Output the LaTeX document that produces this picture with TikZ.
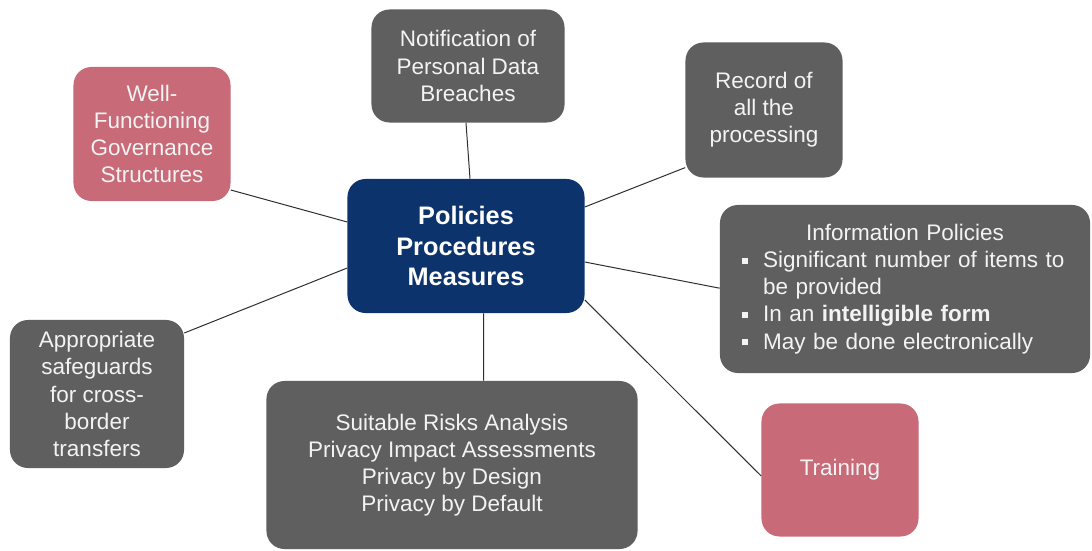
\documentclass[tikz,border=0pt]{standalone}
\usepackage{fontspec}
\setmainfont{Liberation Sans}

\definecolor{hubcolor}{RGB}{13, 51, 108}
\definecolor{greycolor}{RGB}{95, 95, 95}
\definecolor{pinkcolor}{RGB}{200, 106, 120}
\definecolor{edgecolor}{RGB}{45, 45, 45}
\definecolor{labelcolor}{RGB}{243, 243, 243}

\def\cornersize{0.45cm}
\newcommand{\sqbullet}{\raisebox{0.09cm}{\rule{0.15cm}{0.15cm}}}
% one line of a bulleted list, and the indented line that carries it on
\newcommand{\itemline}{\par\noindent\makebox[0.53cm][l]{\sqbullet}}
\newcommand{\moreline}{\par\noindent\hspace*{0.53cm}}

\begin{document}
\begin{tikzpicture}[x=0.025cm, y=-0.025cm,
    box/.style={rounded corners=\cornersize, inner sep=0pt, align=center,
        text=labelcolor, font=\fontsize{16}{19.3}\selectfont},
    greybox/.style={box, fill=greycolor},
    pinkbox/.style={box, fill=pinkcolor},
    hub/.style={box, fill=hubcolor, text=white, font=\fontsize{18}{22}\selectfont\bfseries},
    link/.style={draw, edgecolor, line width=0.7pt}
    ]

    \useasboundingbox[fill=white] (0,0) rectangle (1092,551);

    % Define boxes
    \node[hub, minimum width=5.925cm, minimum height=3.35cm] (pol) at (466,246)
        {Policies\\Procedures\\Measures};

    \node[greybox, minimum width=4.825cm, minimum height=2.825cm] (breach) at (468,66)
        {Notification of\\Personal Data\\Breaches};
    \node[greybox, minimum width=3.925cm, minimum height=3.375cm] (record) at (764,110)
        {Record of\\all the\\processing};
    \node[pinkbox, minimum width=3.925cm, minimum height=3.35cm] (gov) at (152,134)
        {Well-\\Functioning\\Governance\\Structures};
    \node[greybox, minimum width=4.35cm, minimum height=3.7cm] (transfer) at (97,394)
        {Appropriate\\safeguards\\for cross-\\border\\transfers};
    \node[greybox, minimum width=9.275cm, minimum height=4.2cm] (risk) at (452,465)
        {Suitable Risks Analysis\\Privacy Impact Assessments\\Privacy by Design\\Privacy by Default};
    \node[pinkbox, minimum width=3.925cm, minimum height=3.325cm] (train) at (840,470)
        {Training};
    \node[greybox, text width=8.15cm, inner xsep=0.55cm, minimum height=4.2cm,
        align=left] (info) at (905,289)
        {\centering Information Policies\par\raggedright
        \itemline Significant number of items to
        \moreline be provided
        \itemline In an \textbf{intelligible form}
        \itemline May be done electronically};

    % Define links
    \draw[link] ([xshift=0.1cm]pol.north) -- ([xshift=-0.05cm]breach.south);
    \draw[link] ([yshift=0.975cm]pol.east) -- ([yshift=-1.44cm]record.west);
    \draw[link] ([yshift=-0.4cm]pol.east) -- ([yshift=0.02cm]info.west);
    \draw[link] ([yshift=-1.35cm]pol.east) -- ([yshift=-0.15cm]train.west);
    \draw[link] ([xshift=0.44cm]pol.south) -- ([xshift=0.79cm]risk.north);
    \draw[link] ([yshift=0.6cm]pol.west) -- ([yshift=-1.4cm]gov.east);
    \draw[link] ([yshift=-0.55cm]pol.west) -- ([yshift=1.525cm]transfer.east);
\end{tikzpicture}
\end{document}
